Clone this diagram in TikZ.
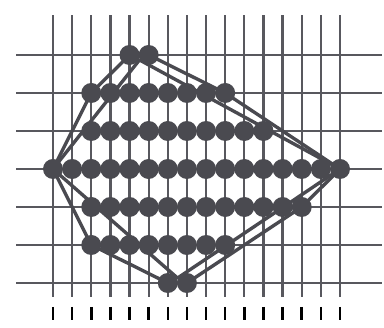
\documentclass[tikz,border=0pt]{standalone}
\usepackage{xcolor}
\usepackage{tikz}
\usetikzlibrary{calc}
\definecolor{grillegris}{RGB}{88,88,94}
\definecolor{pointgris}{RGB}{74,74,80}

\begin{document}
\begin{tikzpicture}[x=0.4783cm, y=-0.95cm,
    point/.style={circle,fill=pointgris,inner sep=0pt,minimum size=5mm},
    trait/.style={color=grillegris,line width=1.6pt},
    bord/.style={color=pointgris,line width=2.4pt,line join=round}]
    \useasboundingbox (-2.77,-1.447) rectangle (17.30,7.184);

    % grille
    \foreach \c in {0,...,15} {
        \draw[trait] (\c,-1.05) -- (\c,6.37);
        \draw[black,line width=1.8pt] (\c,6.63) -- (\c,6.97);
    }
    \foreach \r in {0,...,6}
        \draw[trait] (-1.93,\r) -- (17.2,\r);

    % points entiers
    \foreach \r/\a/\b in {0/4/5,1/2/9,2/2/11,3/0/15,4/2/13,5/2/9,6/6/7}
        \foreach \c in {\a,...,\b}
            \node[point] (p\c-\r) at (\c,\r) {};

    % enveloppe
    \draw[bord] (p4-0.center) -- (p5-0.center) -- (p9-1.center) -- (p15-3.center)
        -- (p13-4.center) -- (p7-6.center) -- (p6-6.center) -- (p2-5.center)
        -- (p0-3.center) -- (p2-1.center) -- cycle;

    % polygone
    \coordinate (haut) at (4.52,0.13);
    \coordinate (bas) at (6.51,5.87);
    \draw[bord] (haut) -- (p15-3.center) -- (bas) -- (p0-3.center) -- cycle;
\end{tikzpicture}
\end{document}
